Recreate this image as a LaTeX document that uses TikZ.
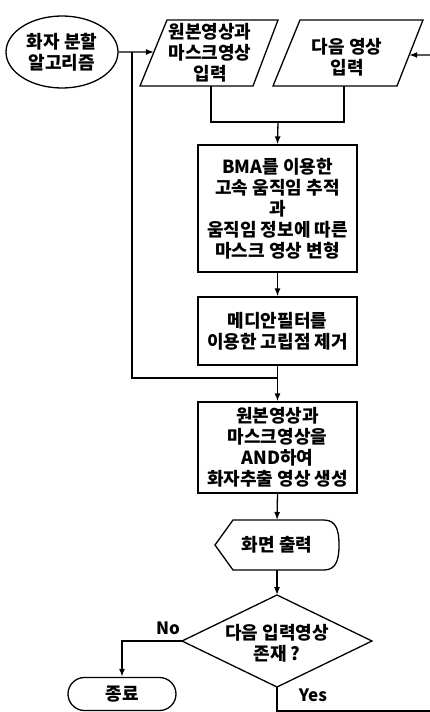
\documentclass[tikz,border=0pt]{standalone}
\usepackage{fontspec}
\setmainfont{Noto Sans CJK KR}
\usetikzlibrary{shapes.geometric,shapes.misc,arrows.meta,calc}
\begin{document}
\begin{tikzpicture}[x=1pt,y=-1pt, line width=1.3pt,
  txt/.style={font=\bfseries\fontsize{18}{21}\selectfont, align=center, inner sep=0pt},
  proc/.style={draw, rectangle, txt, minimum width=159pt},
  arr/.style={-{Latex[length=8pt,width=6pt]}},
  lbl/.style={font=\bfseries\fontsize{17}{20}\selectfont, inner sep=0pt}]
\useasboundingbox (0,0) rectangle (430,712);
% start ellipse
\node[draw, ellipse, minimum width=112pt, minimum height=72pt, txt] (start) at (62,52) {화자 분할\\알고리즘};
% input parallelograms
\coordinate (p1a) at (167,20); \coordinate (p1b) at (278,20);
\coordinate (p1c) at (253,86); \coordinate (p1d) at (140,86);
\draw (p1a) -- (p1b) -- (p1c) -- (p1d) -- cycle;
\node[txt] (in1) at (210,53) {원본영상과\\마스크영상\\입력};
\coordinate (p2a) at (300,20); \coordinate (p2b) at (423,20);
\coordinate (p2c) at (397,86); \coordinate (p2d) at (273,86);
\draw (p2a) -- (p2b) -- (p2c) -- (p2d) -- cycle;
\node[txt] (in2) at (347,57) {다음 영상\\입력};
% process boxes
\node[proc, minimum height=127pt] (bma) at (277.5,208.5) {BMA를 이용한\\고속 움직임 추적\\과\\움직임 정보에 따른\\마스크 영상 변형};
\node[proc, minimum height=68pt] (med) at (277.5,331) {메디안필터를\\이용한 고립점 제거};
\node[proc, minimum height=91pt] (and) at (277.5,447.5) {원본영상과\\마스크영상을\\AND하여\\화자추출 영상 생성};
% display
\node[txt] (disp) at (277,545) {화면 출력};
\coordinate (dtop) at (277,520); \coordinate (dbot) at (277,570);
\draw (215,545) -- (233,520) -- (324,520) .. controls (337,520) and (339,532) .. (339,545)
  .. controls (339,558) and (337,570) .. (324,570) -- (233,570) -- cycle;
% decision
\coordinate (dt) at (277,595); \coordinate (dr) at (372,641);
\coordinate (db) at (277,687); \coordinate (dl) at (182,641);
\draw (dt) -- (dr) -- (db) -- (dl) -- cycle;
\node[txt] (dec) at (277,643) {다음 입력영상\\존재 ?};
% terminator
\node[draw, rounded rectangle, minimum width=108pt, minimum height=33pt, txt] (end) at (122,694) {종료};
% connectors
\coordinate (j1) at (132,52);
\coordinate (l1) at ($(p1a)!0.485!(p1d)$);
\draw[arr] (start.east) -- (l1);
\coordinate (rin) at (430,55);
\coordinate (r2) at ($(p2b)!0.53!(p2c)$);
\draw[arr] (rin) -- (r2);
\coordinate (b1) at (211,86); \coordinate (b2) at (344,86);
\coordinate (m1) at (278,122);
\draw (b1) -- (211,122) -- (344,122) -- (b2);
\draw[arr] (m1) -- (bma.north);
\draw[arr] (bma.south) -- (med.north);
\coordinate (j2) at (278,378);
\draw (j1) |- (j2);
\draw[arr] (med.south) -- (and.north);
\draw[arr] (and.south) -- (dtop);
\draw[arr] (dbot) -- (dt);
\draw[arr] (dl) -| (end.north);
\coordinate (yb) at (277,711); \coordinate (ye) at (430,711);
\draw (db) -- (yb) -- (ye);
\node[lbl] (no) at (168,628) {No};
\node[lbl] (yes) at (313,695) {Yes};
\end{tikzpicture}
\end{document}
